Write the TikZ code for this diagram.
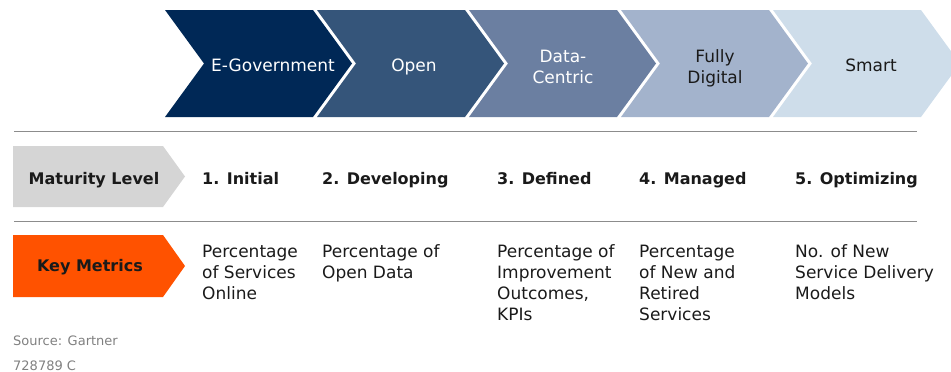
\documentclass[tikz,border=0pt]{standalone}
\usepackage{fontspec}
\setmainfont{DejaVu Sans}
\definecolor{chevA}{HTML}{002856}
\definecolor{chevB}{HTML}{35557A}
\definecolor{chevC}{HTML}{6B7FA1}
\definecolor{chevD}{HTML}{A3B3CC}
\definecolor{chevE}{HTML}{CEDDEA}
\definecolor{rulegray}{HTML}{8C8C8C}
\definecolor{levelgray}{HTML}{D5D5D5}
\definecolor{metricorange}{HTML}{FF5200}
\definecolor{sourcegray}{HTML}{808080}
\definecolor{inkdark}{HTML}{1A1A1A}
\begin{document}
\begin{tikzpicture}[x=1pt,y=-1pt,
    stage/.style={font=\fontsize{17}{20.5}\selectfont,align=center,anchor=base,inner sep=0pt},
    level/.style={font=\bfseries\fontsize{16}{20}\selectfont,anchor=base west,inner sep=0pt,text=inkdark},
    metric/.style={font=\fontsize{17}{21}\selectfont,align=left,anchor=base west,inner sep=0pt,text=inkdark},
    tag/.style={font=\bfseries\fontsize{16}{20}\selectfont,anchor=base,inner sep=0pt,text=inkdark},
    note/.style={font=\fontsize{13}{16}\selectfont,text=sourcegray,anchor=base west,inner sep=0pt}]
    \useasboundingbox (0,0) rectangle (951,372);
    % stage chevrons
    \foreach \x/\c in {165/chevA,317/chevB,469/chevC,621/chevD,773/chevE}
        \fill[\c] (\x,10) -- ++(148,0) -- ++(39,53.5) -- ++(-39,53.5) -- ++(-148,0) -- ++(39,-53.5) -- cycle;
    % base of a multi-line node = its last line
    \node[stage,text=white] (egov) at (273,71.5) {E-Government};
    \node[stage,text=white] (open) at (414,71.5) {Open};
    \node[stage,text=white] (datac) at (563,83) {Data-\\Centric};
    \node[stage,text=inkdark] (fully) at (715,83) {Fully\\Digital};
    \node[stage,text=inkdark] (smart) at (871,71.5) {Smart};
    % rules
    \draw[rulegray,line width=1.3pt] (14,131.5) -- (917,131.5);
    \draw[rulegray,line width=1.3pt] (14,221.5) -- (917,221.5);
    % row tags
    \fill[levelgray] (13,146) -- (163,146) -- (185,176.5) -- (163,207) -- (13,207) -- cycle;
    \node[tag] (maturity) at (94,184) {Maturity Level};
    \fill[metricorange] (13,235) -- (163,235) -- (185,266) -- (163,297) -- (13,297) -- cycle;
    \node[tag] (keymet) at (90,271.5) {Key Metrics};
    % levels
    \node[level] (initial) at (202,184) {1. Initial};
    \node[level] (developing) at (322,184) {2. Developing};
    \node[level] (defined) at (497,184) {3. Defined};
    \node[level] (managed) at (639,184) {4. Managed};
    \node[level] (optimizing) at (795,184) {5. Optimizing};
    % metrics
    \node[metric] (online) at (202,299.5) {Percentage\\of Services\\Online};
    \node[metric] (opendata) at (322,278.5) {Percentage of\\Open Data};
    \node[metric] (kpis) at (497,320.5) {Percentage of\\Improvement\\Outcomes,\\KPIs};
    \node[metric] (retired) at (639,320.5) {Percentage\\of New and\\Retired\\Services};
    \node[metric] (models) at (795,299.5) {No. of New\\Service Delivery\\Models};
    % source
    \node[note] (source) at (13,345) {Source: Gartner};
    \node[note] (docid) at (13,370) {728789 C};
\end{tikzpicture}
\end{document}
